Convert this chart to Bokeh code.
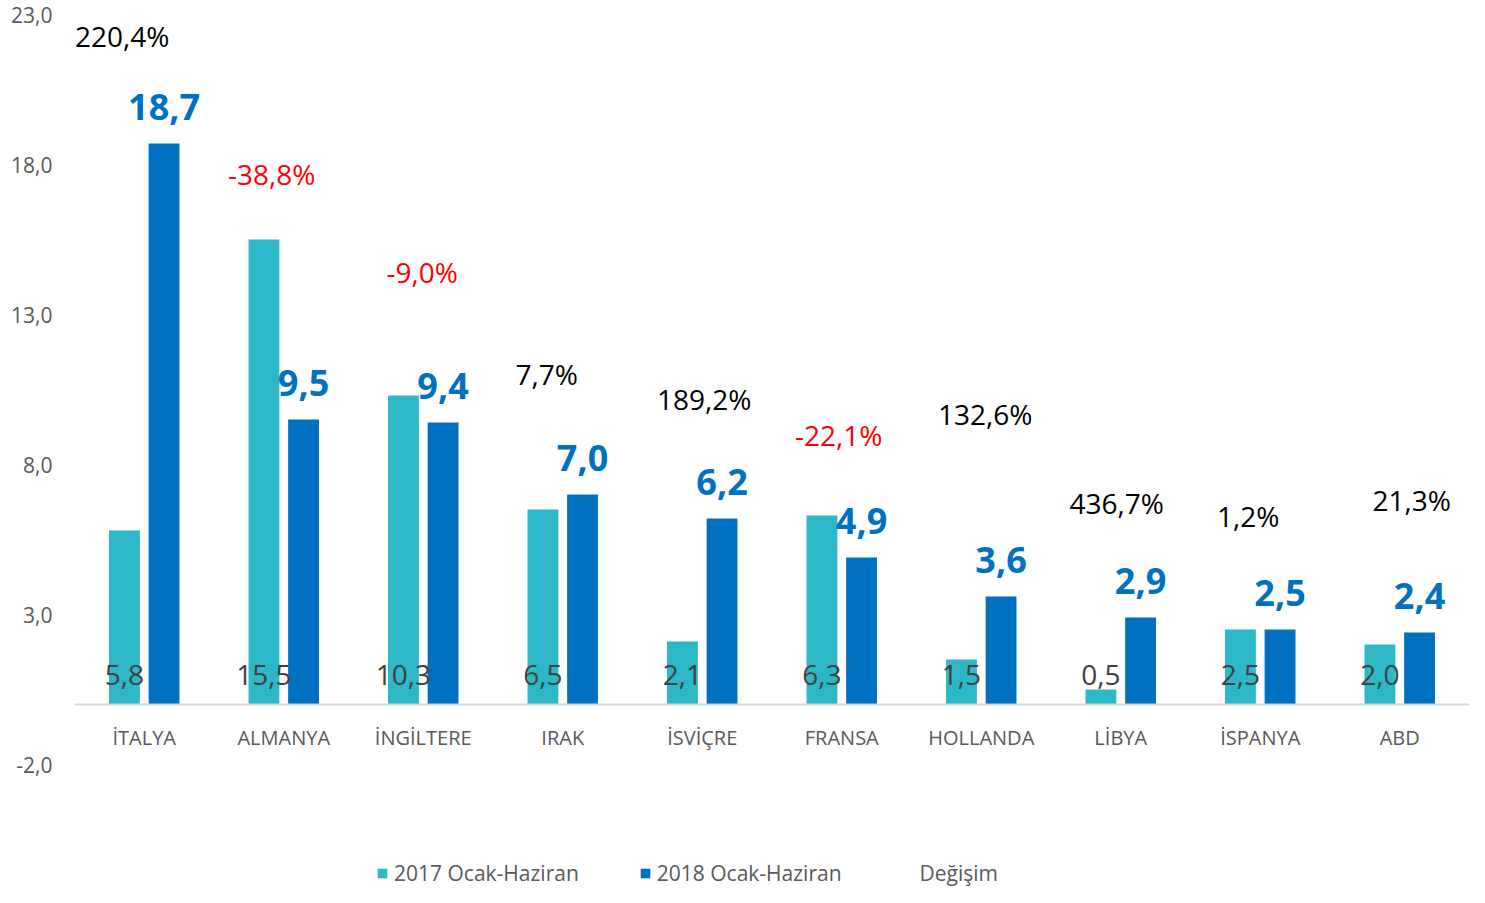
from bokeh.plotting import figure
from bokeh.models import (ColumnDataSource, FactorRange, Range1d, FixedTicker, Span,
                          Legend, LegendItem, CustomJSTickFormatter, LabelSet)
from bokeh.transform import dodge
from bokeh.core.properties import value
from bokeh.embed import file_html
from bokeh.resources import INLINE

# ---- data ----
categories = ["İTALYA", "ALMANYA", "İNGİLTERE", "IRAK", "İSVİÇRE", "FRANSA",
              "HOLLANDA", "LİBYA", "İSPANYA", "ABD"]
v2017 = [5.8, 15.5, 10.3, 6.5, 2.1, 6.3, 1.5, 0.5, 2.5, 2.0]
v2018 = [18.7, 9.5, 9.4, 7.0, 6.2, 4.9, 3.6, 2.9, 2.5, 2.4]
change = [220.4, -38.8, -9.0, 7.7, 189.2, -22.1, 132.6, 436.7, 1.2, 21.3]
series_names = ["2017 Ocak-Haziran", "2018 Ocak-Haziran", "Değişim"]
y_ticks = [-2, 3, 8, 13, 18, 23]

# label placement for the change labels (data y, pixel x offset)
change_label_y = [22.27, 17.70, 14.43, 11.03, 10.17, 8.97, 9.67, 6.73, 6.27, 6.83]
change_label_dx = [-22, -12, -1, -16, 2, -3, 4, -4, -12, 12]

FONT = "Open Sans"
TEAL = "#2CB8C7"
BLUE = "#0070C0"
GRAY = "#595959"


def fmt(v):
    return f"{v:.1f}".replace(".", ",")


src = ColumnDataSource(dict(
    cat=categories,
    v2017=v2017,
    v2018=v2018,
    l2017=[fmt(v) for v in v2017],
    l2018=[fmt(v) for v in v2018],
    clabel=[fmt(v) + "%" for v in change],
    ccolor=["#FF0000" if v < 0 else "#000000" for v in change],
    cy=change_label_y,
    cdx=change_label_dx,
))

p = figure(width=1469, height=887,
           x_range=FactorRange(*categories, range_padding=0, factor_padding=0),
           y_range=Range1d(-6.1, 23),
           x_axis_location=None,
           min_border_left=74, min_border_right=0, min_border_top=14, min_border_bottom=0,
           outline_line_color=None, toolbar_location=None, output_backend="svg")

p.grid.grid_line_color = None

ax = p.yaxis[0]
ax.ticker = FixedTicker(ticks=y_ticks)
ax.formatter = CustomJSTickFormatter(code="return tick.toFixed(1).replace('.', ',');")
ax.axis_line_color = None
ax.major_tick_line_color = None
ax.minor_tick_line_color = None
ax.major_label_standoff = 16
ax.major_label_text_font = FONT
ax.major_label_text_font_size = "21px"
ax.major_label_text_color = GRAY

p.add_layout(Span(location=0, dimension="width", line_color="#D9D9D9", line_width=2))

r1 = p.vbar(x=dodge("cat", -0.142, range=p.x_range), top="v2017", width=0.221,
            source=src, fill_color=TEAL, line_color=None)
r2 = p.vbar(x=dodge("cat", 0.142, range=p.x_range), top="v2018", width=0.221,
            source=src, fill_color=BLUE, line_color=None)
r3 = p.line(x="cat", y="cy", source=src, line_alpha=0)

# 2017 value labels near the base
p.text(x=dodge("cat", -0.142, range=p.x_range), y=0.97, text="l2017", source=src,
       text_font=value(FONT), text_font_size="28px", text_color="#404040",
       text_align="center", text_baseline="middle")

# 2018 value labels above bars
p.text(x=dodge("cat", 0.142, range=p.x_range), y="v2018", y_offset=-37, text="l2018",
       source=src, text_font=value(FONT), text_font_size="36px", text_font_style="bold",
       text_color=BLUE, text_align="center", text_baseline="middle")

# change labels
p.add_layout(LabelSet(x="cat", y="cy", x_offset="cdx", text="clabel", source=src,
                      text_font=value(FONT), text_font_size="28px", text_color="ccolor",
                      text_align="center", text_baseline="middle"))

# category labels under the zero line
p.text(x="cat", y=-1.1, text="cat", source=src, text_font=value(FONT),
       text_font_size="20px", text_color=GRAY, text_align="center", text_baseline="middle")

legend = Legend(items=[LegendItem(label=series_names[0], renderers=[r1]),
                       LegendItem(label=series_names[1], renderers=[r2]),
                       LegendItem(label=series_names[2], renderers=[r3])],
                orientation="horizontal", location=(302, 0),
                glyph_width=12, glyph_height=12, label_standoff=6, spacing=60,
                padding=0, margin=0, border_line_color=None, background_fill_alpha=0,
                label_text_font=FONT, label_text_font_size="21px", label_text_color=GRAY)
p.add_layout(legend)

open("out.html", "w").write(file_html(p, INLINE))
